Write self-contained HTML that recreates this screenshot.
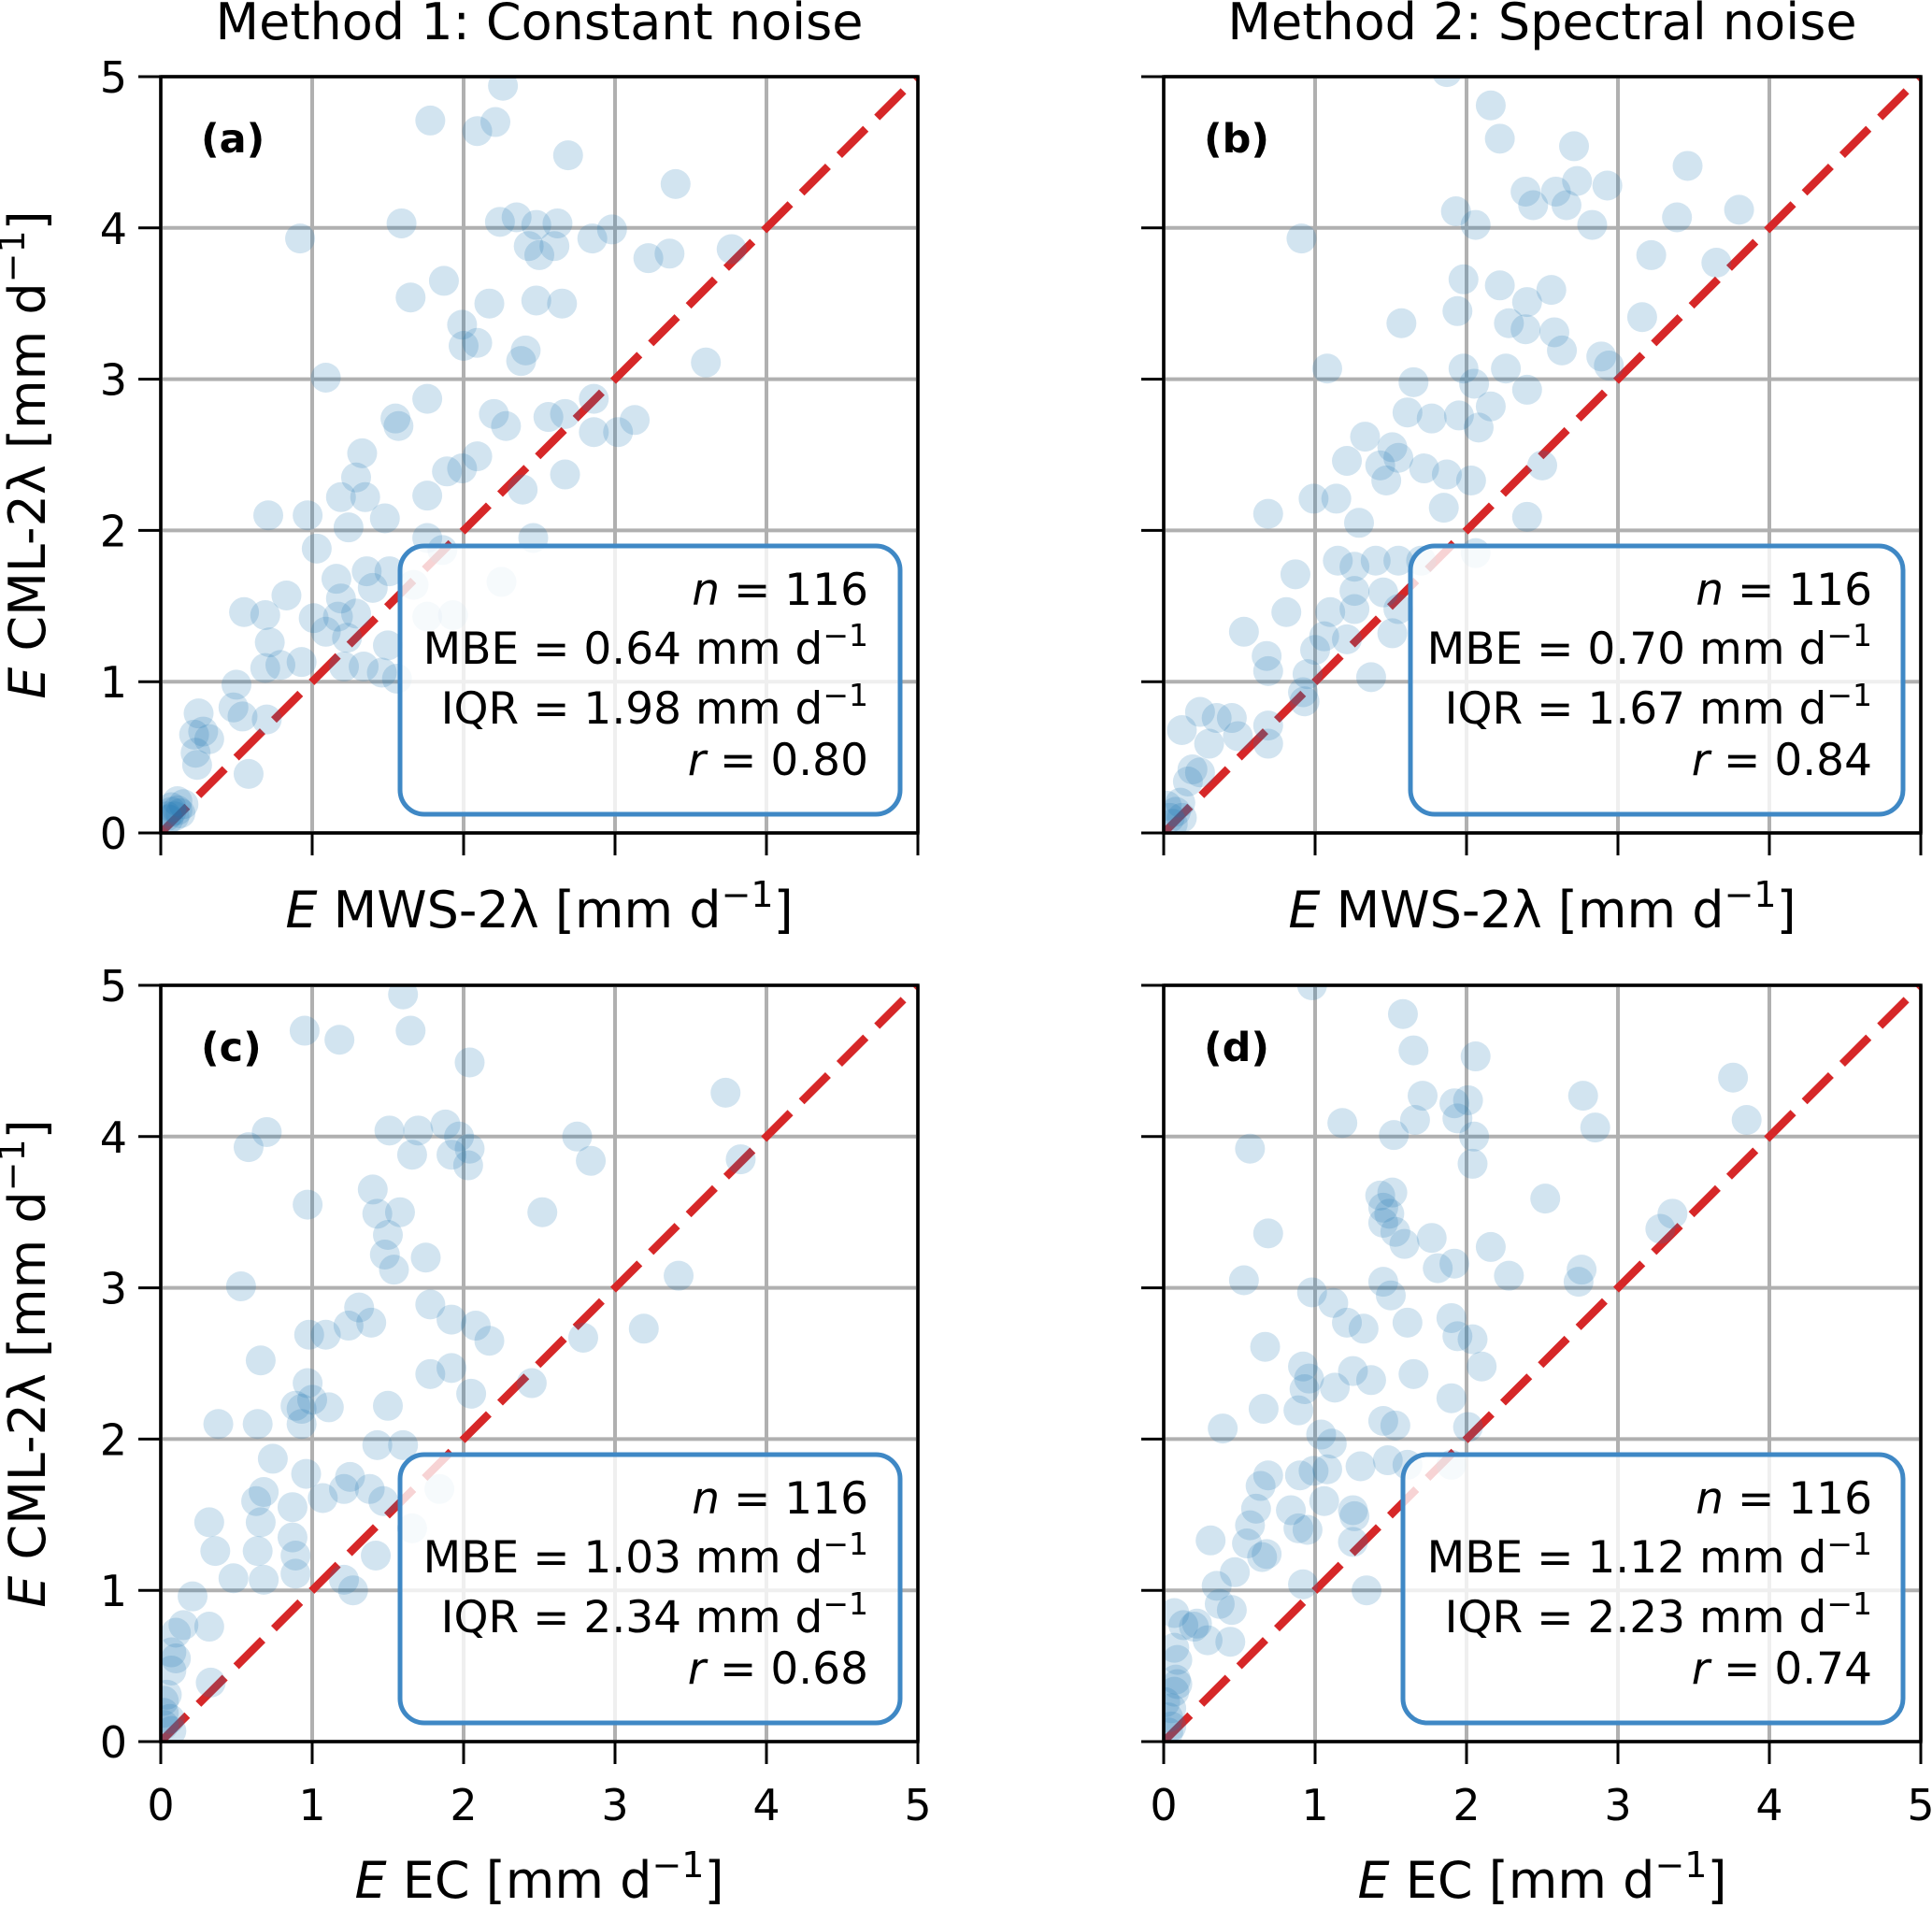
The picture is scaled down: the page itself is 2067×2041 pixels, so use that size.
<!DOCTYPE html>
<html><head><meta charset="utf-8"><style>
html,body{margin:0;padding:0;background:#fff;}
svg{display:block;font-family:"DejaVu Sans","Liberation Sans",sans-serif;}
</style></head><body>
<svg id="fig" width="2067" height="2041" viewBox="0 0 2067 2041" xmlns="http://www.w3.org/2000/svg"></svg>
<script>
const ticks=[0,1,2,3,4,5];
const tickLabels=["0","1","2","3","4","5"];
const titles=["Method 1: Constant noise","Method 2: Spectral noise"];
const panelLetters=["(a)","(b)","(c)","(d)"];
const statsN=["116","116","116","116"];
const statsMBE=["0.64","0.70","1.03","1.12"];
const statsIQR=["1.98","1.67","2.34","2.23"];
const statsR=["0.80","0.84","0.68","0.74"];
const ax_x=[2.26,1.78,2.21,2.09,2.69,3.40,1.59,0.92,2.24,2.35,2.48,2.62,2.85,2.98,2.43,2.50,2.60,3.22,3.36,3.77,1.87,1.65,2.17,2.48,2.65,1.99,2.00,2.09,2.41,2.38,3.60,1.09,1.55,1.57,1.76,2.20,2.28,2.56,2.67,2.86,2.86,3.02,3.13,1.33,1.29,1.19,1.35,1.89,1.99,2.09,2.39,2.67,0.71,0.97,1.24,1.48,1.76,1.03,2.46,1.76,1.86,0.83,1.16,1.36,1.51,1.40,1.67,1.19,2.25,0.55,0.69,1.01,1.17,1.29,1.76,1.93,0.72,1.09,1.23,1.50,0.69,0.79,0.93,1.21,1.34,1.46,1.56,0.50,0.48,0.54,0.70,0.25,0.22,0.28,0.32,0.23,0.24,0.58,0.11,0.07,0.09,0.13,0.05,0.04,0.15,0.11,0.07];
const ax_y=[4.94,4.71,4.70,4.64,4.48,4.29,4.03,3.93,4.04,4.07,4.02,4.03,3.93,3.99,3.88,3.82,3.88,3.80,3.83,3.86,3.65,3.54,3.50,3.52,3.50,3.36,3.22,3.24,3.19,3.12,3.11,3.01,2.74,2.69,2.87,2.77,2.69,2.75,2.77,2.87,2.65,2.65,2.73,2.51,2.35,2.22,2.22,2.39,2.41,2.49,2.27,2.37,2.10,2.10,2.02,2.08,2.23,1.88,1.95,1.95,1.87,1.57,1.68,1.73,1.73,1.62,1.64,1.55,1.66,1.46,1.44,1.42,1.43,1.45,1.43,1.44,1.26,1.33,1.29,1.24,1.09,1.11,1.13,1.10,1.10,1.06,1.02,0.98,0.83,0.77,0.75,0.79,0.65,0.67,0.62,0.53,0.45,0.39,0.21,0.17,0.11,0.13,0.09,0.11,0.19,0.15,0.14];
const bx_x=[1.87,2.16,2.22,2.71,3.46,2.39,2.59,2.93,2.73,2.44,2.66,3.80,1.93,2.06,2.83,3.39,0.91,3.22,3.65,1.98,2.22,2.56,2.40,1.94,1.57,2.28,2.39,2.58,2.63,2.89,3.16,2.94,1.08,1.98,2.26,1.65,2.05,2.40,1.61,1.77,1.95,2.16,2.08,1.33,1.51,1.21,1.43,1.55,2.50,1.47,1.72,1.87,2.03,0.99,1.14,1.29,1.85,2.40,0.69,1.15,1.26,1.40,1.55,1.70,2.06,0.87,1.26,1.45,0.81,1.10,1.26,1.55,0.53,1.06,1.21,1.51,0.68,0.69,1.00,0.95,1.37,0.92,0.93,0.24,0.35,0.45,0.12,0.49,0.30,0.69,0.69,0.19,0.24,0.16,0.02,0.08,0.12,0.04,0.11,0.06];
const bx_y=[5.03,4.81,4.59,4.54,4.41,4.24,4.24,4.28,4.31,4.15,4.15,4.12,4.11,4.02,4.02,4.07,3.93,3.82,3.77,3.66,3.62,3.59,3.51,3.45,3.37,3.37,3.33,3.31,3.19,3.15,3.41,3.09,3.07,3.07,3.07,2.98,2.97,2.93,2.78,2.74,2.76,2.82,2.68,2.62,2.55,2.46,2.43,2.48,2.43,2.33,2.41,2.37,2.33,2.21,2.21,2.05,2.15,2.09,2.11,1.80,1.76,1.80,1.80,1.80,1.85,1.71,1.60,1.59,1.46,1.46,1.48,1.48,1.33,1.30,1.28,1.32,1.17,1.07,1.21,1.05,1.03,0.93,0.87,0.80,0.76,0.76,0.68,0.64,0.59,0.71,0.59,0.42,0.40,0.34,0.18,0.14,0.10,0.10,0.20,0.06];
const cx_x=[1.60,0.95,1.18,1.65,2.04,3.73,0.70,0.58,1.51,1.70,1.88,1.97,2.04,2.03,1.92,1.66,2.75,2.84,3.83,1.40,1.43,1.58,2.52,0.97,1.50,1.48,1.54,1.75,0.53,3.42,1.31,1.78,1.92,2.08,0.98,1.09,1.24,1.39,2.79,3.19,2.17,0.66,0.97,1.00,1.11,1.78,1.92,2.05,2.45,0.89,0.93,1.50,0.38,0.64,0.93,1.43,1.60,0.96,0.74,1.07,1.25,1.21,1.38,1.47,1.84,1.66,0.63,0.68,0.66,0.87,0.32,0.87,0.36,0.64,0.89,1.42,0.48,0.68,0.89,1.21,1.27,0.21,0.15,0.10,0.07,0.07,0.10,0.32,0.33,0.04,0.02,0.06,0.02,0.07,0.02];
const cx_y=[4.94,4.70,4.64,4.70,4.49,4.29,4.03,3.93,4.04,4.04,4.08,4.00,3.92,3.81,3.88,3.88,4.00,3.84,3.85,3.65,3.49,3.50,3.50,3.55,3.35,3.22,3.12,3.20,3.01,3.08,2.87,2.89,2.79,2.75,2.69,2.69,2.75,2.77,2.67,2.73,2.65,2.52,2.37,2.26,2.21,2.43,2.47,2.30,2.37,2.22,2.20,2.22,2.10,2.10,2.10,1.96,1.96,1.77,1.87,1.61,1.75,1.67,1.67,1.59,1.67,1.41,1.59,1.65,1.45,1.55,1.45,1.35,1.26,1.26,1.23,1.23,1.08,1.07,1.11,1.07,1.00,0.96,0.77,0.72,0.59,0.47,0.55,0.76,0.39,0.31,0.19,0.15,0.11,0.07,0.27];
const dx_x=[0.98,1.58,1.65,2.06,1.71,1.92,2.01,1.94,1.66,1.18,1.52,2.05,2.04,0.57,2.77,2.85,3.76,3.85,2.52,3.36,3.28,1.43,1.51,1.45,1.49,1.45,1.53,1.59,1.77,2.16,0.69,1.81,1.92,2.28,2.76,2.74,0.53,1.45,1.50,0.98,1.12,1.21,1.32,1.61,1.90,1.94,2.04,2.10,0.67,0.92,0.96,0.93,1.13,1.25,1.37,1.65,1.90,0.66,0.89,1.45,1.53,2.01,0.39,1.04,1.11,1.30,1.48,1.61,1.90,0.90,0.99,1.08,0.69,0.64,1.06,0.84,0.61,0.57,0.89,0.95,1.25,1.26,0.55,0.68,0.31,1.25,0.47,0.65,0.92,1.34,0.35,0.37,0.45,0.13,0.20,0.22,0.29,0.44,0.07,0.07,0.09,0.08,0.09,0.07,0.05,0.03,0.05,0.03,0.01];
const dx_y=[5.00,4.81,4.57,4.53,4.27,4.22,4.24,4.12,4.11,4.09,4.01,4.00,3.82,3.92,4.27,4.06,4.39,4.11,3.59,3.49,3.39,3.61,3.63,3.53,3.49,3.43,3.37,3.29,3.33,3.27,3.36,3.13,3.16,3.08,3.12,3.04,3.05,3.04,2.95,2.97,2.90,2.77,2.73,2.77,2.80,2.68,2.66,2.48,2.61,2.48,2.40,2.33,2.34,2.45,2.39,2.43,2.27,2.20,2.19,2.12,2.09,2.08,2.07,2.03,1.97,1.82,1.86,1.83,1.83,1.76,1.79,1.80,1.76,1.69,1.59,1.53,1.54,1.43,1.41,1.40,1.53,1.49,1.31,1.24,1.33,1.32,1.12,1.22,1.04,1.00,1.03,0.91,0.87,0.77,0.76,0.78,0.67,0.66,0.85,0.62,0.54,0.41,0.38,0.33,0.22,0.16,0.10,0.06,0.26];
const seriesX=[ax_x,bx_x,cx_x,dx_x];
const seriesY=[ax_y,bx_y,cx_y,dx_y];

const NS="http://www.w3.org/2000/svg";
const svg=document.getElementById('fig');
function mk(tag,attrs,parent){const e=document.createElementNS(NS,tag);for(const k in attrs)e.setAttribute(k,attrs[k]);(parent||svg).appendChild(e);return e;}
const panels=[{x0:172,y0:82},{x0:1245,y0:82},{x0:172,y0:1054},{x0:1245,y0:1054}];
const W=810,H=809,DMAX=5;
const defs=mk('defs',{});
panels.forEach((p,i)=>{
  const sx=v=>p.x0+v/DMAX*W, sy=v=>p.y0+H-v/DMAX*H;
  const g=mk('g',{});
  
  
  const cp=mk('clipPath',{id:'clip'+i},defs);
  mk('rect',{x:p.x0,y:p.y0,width:W,height:H},cp);
  ticks.forEach(t=>{
    const gx=mk('line',{x1:sx(t),x2:sx(t),y1:p.y0,y2:p.y0+H,stroke:'#b0b0b0','stroke-width':4},g);
    
    
    const gy=mk('line',{x1:p.x0,x2:p.x0+W,y1:sy(t),y2:sy(t),stroke:'#b0b0b0','stroke-width':4},g);
    
    
  });
  const ln=mk('line',{x1:sx(0),y1:sy(0),x2:sx(5),y2:sy(5),stroke:'#d62728','stroke-width':8.5,'stroke-dasharray':'40 17','clip-path':'url(#clip'+i+')'},g);
  
  
  const pg=mk('g',{'clip-path':'url(#clip'+i+')'},g);
  seriesX[i].forEach((xv,j)=>{
    const c=mk('circle',{cx:sx(xv),cy:sy(seriesY[i][j]),r:16,fill:'#1f77b4','fill-opacity':0.2},pg);
    
    
  });
  const sp=mk('rect',{x:p.x0,y:p.y0,width:W,height:H,fill:'none',stroke:'#000','stroke-width':3.5},g);
  
  
  ticks.forEach((t,k)=>{
    const tx=mk('line',{x1:sx(t),x2:sx(t),y1:p.y0+H,y2:p.y0+H+24,stroke:'#000','stroke-width':3},g);
    
    
    const ty=mk('line',{x1:p.x0-24,x2:p.x0,y1:sy(t),y2:sy(t),stroke:'#000','stroke-width':3},g);
    
    
    if(i>=2){
      const tl=mk('text',{x:sx(t),y:p.y0+H+84,'font-size':46,'text-anchor':'middle',fill:'#000'},g);
      tl.textContent=tickLabels[k];
      
      
    }
    if(i%2==0){
      const tl=mk('text',{x:p.x0-36,y:sy(t)+17,'font-size':46,'text-anchor':'end',fill:'#000'},g);
      tl.textContent=tickLabels[k];
      
      
    }
  });
  const pl=mk('text',{x:p.x0+43,y:p.y0+81,'font-size':43,'font-weight':'bold',fill:'#000'},g);
  pl.textContent=panelLetters[i];
  
  
  const bx=(i%2==0)?428:(i==1?1509:1501);
  const bw=(i==1)?527:535;
  const box=mk('rect',{x:bx,y:p.y0+502,width:bw,height:287,rx:26,ry:26,fill:'#fff','fill-opacity':0.8,stroke:'#3f88c5','stroke-width':5},g);
  
  
  const tr=(i%2==0)?929:2003;
  const lines=[
    ['<tspan font-style="italic">n</tspan> = '+statsN[i],63],
    ['MBE = '+statsMBE[i]+' mm d<tspan baseline-shift="super" font-size="33">−1</tspan>',126],
    ['IQR = '+statsIQR[i]+' mm d<tspan baseline-shift="super" font-size="33">−1</tspan>',190],
    ['<tspan font-style="italic">r</tspan> = '+statsR[i],245]];
  lines.forEach(l=>{
    const t=mk('text',{x:tr,y:p.y0+l[1]+502,'font-size':47,'text-anchor':'end',fill:'#000'},g);
    t.innerHTML=l[0];
    
    
  });
  const xl=mk('text',{x:p.x0+W/2,y:(i<2?992:2030),'font-size':54,'text-anchor':'middle',fill:'#000'},g);
  xl.innerHTML='<tspan font-style="italic">E</tspan> '+(i<2?'MWS-2λ':'EC')+' [mm d<tspan baseline-shift="super" font-size="38">−1</tspan>]';
  
  
  if(i%2==0){
    const cy=p.y0+H/2;
    const yl=mk('text',{x:0,y:0,'font-size':54,'text-anchor':'middle',fill:'#000',transform:'translate(48,'+cy+') rotate(-90)'},g);
    yl.innerHTML='<tspan font-style="italic">E</tspan> CML-2λ [mm d<tspan baseline-shift="super" font-size="38">−1</tspan>]';
    
    
  }
  if(i<2){
    const tt=mk('text',{x:p.x0+W/2,y:42,'font-size':54,'text-anchor':'middle',fill:'#000'},g);
    tt.textContent=titles[i];
    
    
  }
});
</script>
</body></html>
